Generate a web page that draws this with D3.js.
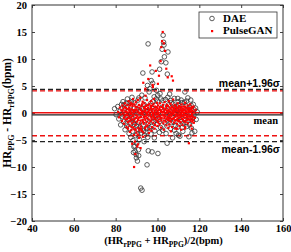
<!DOCTYPE html>
<html>
<head>
<meta charset="utf-8">
<script src="https://cdn.jsdelivr.net/npm/d3@7"></script>
<style>
  body { margin: 0; background: #fff; }
  svg { display: block; }
  .tick text { font-family: "Liberation Serif", serif; font-weight: bold; font-size: 10.5px; fill: #000; }
</style>
</head>
<body>
<div id="chart"></div>
<script>
// Bland-Altman data: [mean HR, difference]
var daePoints = [
  [79.5,0.8],[80.2,-0.3],[81,1.2],[81.5,-1.1],[82,0.3],[82.4,-2.2],[82.8,1.6],[83.1,-0.7],[83.5,2.1],[83.8,-1.6],
  [84.2,0.9],[84.5,-3.1],[84.8,-0.2],[85.1,1.8],[85.3,-2.4],[85.6,2.6],[85.9,-1.2],[86.2,0.4],[86.4,-3.8],[86.7,-2.9],
  [87,1.3],[87.2,-4.5],[87.5,-0.8],[87.8,2.9],[88,-3.4],[88.3,-5.1],[88.5,0.2],[88.7,-6.2],[88.9,-2.1],[89.1,1.9],
  [89.3,-7.1],[89.5,-4.2],[89.7,-1.3],[89.9,-8.3],[90.1,-5.6],[90.3,0.7],[90.5,-3],[90.7,2.4],[90.9,-6.8],[91.1,-1.8],
  [91.3,-4.9],[91.5,1.1],[91.7,-2.6],[92,-13.9],[92.6,-14.3],[92.3,-3.7],[92.5,3.3],[92.8,-0.5],[93,7.4],[93.2,-2.2],
  [93.5,1.6],[93.8,-4.1],[94,2.8],[94.3,-1.4],[94.6,0.3],[94.8,-2.9],[95,-9.6],[95.2,5.1],[95.5,12.8],[95.6,-7],
  [95.8,-1.9],[96,3.9],[96.3,4.5],[96.5,-0.9],[96.8,1.8],[97,6],[97.2,-2.5],[97.4,-7.2],[97.4,7.6],[97.7,5.5],
  [97.9,0.8],[98.2,-1.6],[98.4,3],[98.7,-3.3],[99,1.4],[99.2,-0.4],[99.5,4.2],[99.8,-2.1],[100,2.2],[100.2,-7.5],
  [100.5,0.1],[100.7,-1.2],[101,8.1],[101.2,3.6],[101.5,-2.7],[101.8,9.5],[102,1],[102.2,11.8],[102.5,-0.7],[102.7,14.4],
  [102.9,13.1],[103.1,12.6],[103.3,10.4],[103.5,-1.8],[103.8,2.5],[104,9.3],[104.2,0.5],[104.5,-2.4],[104.7,7.2],[105,11.3],
  [105.2,1.5],[105.5,-1.1],[105.8,3.5],[106,0.2],[106.3,-2.9],[106.6,1.9],[106.9,-0.6],[107.2,-4.6],[107.5,0.9],[107.8,-1.7],
  [108,2.7],[108.3,-0.2],[108.6,-2.3],[108.9,1.2],[109.2,-1],[109.5,0.4],[109.8,-2.6],[110.1,1.5],[110.4,-0.8],[110.7,-4.3],
  [111,0.6],[111.3,-1.6],[111.6,1.9],[111.9,-0.3],[112.2,-2],[112.5,0.8],[112.8,-1.2],[113.1,3.9],[113.4,-0.5],[113.7,1.3],
  [114,-2.5],[114.3,0.2],[114.6,-1.4],[115,-4.4],[115.3,1],[115.6,-0.9],[115.9,2.4],[116.2,-2.8],[116.5,0.5],[116.8,-1.5],
  [117.1,1.6],[117.4,-0.4],[117.8,-3.4],[118.2,0.9],
  [88.5,-7.3],[89.2,-6.1],[89.8,-7.7],[90.4,-8.9],[91,-7.9],[104.6,-5.6],[110,-4.1],[116.5,-3.7],
  [85.5,-0.6],[86.5,1.9],[87.4,-1.9],[88.2,-1],[89,0.9],[90,-2.4],[91.8,0.4],[93.4,-3.3],[94.9,1.2],[96.2,-2.8],
  [98,-0.9],[99.4,2.6],[101,-1.6],[102.6,2.3],[104.8,-1.3],[106.2,2.3],[108.1,-3.2],[109.9,2.1],[111.8,-2.7],[113.9,2.2],
  [83,-0.2],[84,1.5],[84.9,-1.9],[85.8,0.3],[86.6,-1.1],[87.5,2],[88.4,-1.7],[89.4,0.2],[90.2,-3.9],[91.1,2.8],
  [91.9,-3.2],[92.7,0.9],[93.6,-5.3],[94.4,-3.5],[95.3,-4.5],[96.1,0.4],[96.9,-3.9],[97.7,2.1],[98.5,-4.6],[99.3,-1.3],
  [100.1,3.3],[100.9,-3.6],[101.7,2.6],[102.5,-3.2],[103.3,1.1],[104.1,-3.8],[104.9,2.9],[105.7,-0.4],[106.5,-1.8],[107.3,1.7],
  [108.1,0],[108.9,-3.8],[109.7,2.7],[110.5,0.2],[111.3,2.4],[112.1,-3.4],[112.9,2],[113.7,-1.8],[114.5,2.8],[115.3,-2.2],
  [116.1,1.4],[116.9,-0.9],[117.6,0.6],[118.5,-1.2],[119,0.2]
];

var ganPoints = [
  [81.2,0.2],[81.6,-0.8],[82,1],[82.3,-0.3],[82.7,0.5],[83,-1.5],[83.2,1.4],[83.5,-0.1],[83.8,0.8],[84,-2],
  [84.2,-0.6],[84.4,1.8],[84.6,0.3],[84.8,-1.2],[85,0.9],[85.2,-2.6],[85.4,-0.3],[85.6,1.5],[85.8,-1.7],[86,0.1],
  [86.2,2.2],[86.3,-0.9],[86.5,1],[86.7,-2.3],[86.8,0.4],[87,-1.4],[87.1,1.9],[87.3,-0.2],[87.5,-3.2],[87.6,0.7],
  [87.8,-1.9],[88,1.3],[88.1,-0.6],[88.3,2.6],[88.4,-2.7],[88.6,0.2],[88.7,-4.1],[88.8,-10],[88.9,1.6],[89,-1.1],
  [89.2,-5.3],[89.3,0.6],[89.5,-2.2],[89.6,2],[89.8,-0.4],[89.9,-3.6],[90,1.1],[90.2,-1.6],[90.3,-6.2],[90.5,0.3],
  [90.6,2.4],[90.8,-2.8],[90.9,-0.9],[91.1,1.5],[91.2,-4.6],[91.4,-0.1],[91.5,-1.9],[91.7,0.8],[91.8,2.8],[92,-2.5],
  [92.2,-0.7],[92.3,1.3],[92.5,-3.3],[92.6,0.2],[92.8,-1.3],[92.9,2.1],[93.1,-0.3],[93.2,5.6],[93.4,-2],[93.5,0.9],
  [93.7,1.8],[93.8,-1],[94,-2.8],[94.1,0.4],[94.3,3.2],[94.4,-0.6],[94.6,1.3],[94.7,-1.7],[94.9,0.1],[95,2.4],
  [95.2,-2.3],[95.3,-0.4],[95.5,1],[95.6,6.3],[95.8,-1.2],[95.9,0.6],[96.1,-3],[96.2,1.7],[96.4,-0.2],[96.5,8.8],
  [96.7,-1.5],[96.8,0.9],[97,2.2],[97.1,-0.8],[97.3,0.3],[97.4,-2.6],[97.6,1.4],[97.7,5.2],[97.9,-0.5],[98,-1.8],
  [98.2,0.8],[98.3,2.6],[98.5,-1],[98.6,0.1],[98.8,-2.2],[98.9,1.2],[99.1,-0.3],[99.2,7.8],[99.4,0.6],[99.5,-1.4],
  [99.7,1.9],[99.8,-0.7],[100,-2.4],[100.1,0.3],[100.3,1.4],[100.4,-0.2],[100.6,-1.2],[100.7,6.9],[100.9,0.7],[101,-2],
  [101.2,1.8],[101.3,-0.5],[101.5,9.6],[101.6,0.2],[101.8,12.2],[101.9,-1.4],[102.1,1.1],[102.2,13.3],[102.4,-0.3],[102.5,15],
  [102.7,0.9],[102.8,-1.9],[103,12.9],[103.1,0.3],[103.3,-0.9],[103.4,2],[103.6,11.5],[103.7,-0.1],[103.9,-1.6],[104,0.8],
  [104.2,8.2],[104.3,-2.3],[104.5,0.4],[104.6,1.5],[104.8,-0.7],[104.9,6.6],[105.1,-1.3],[105.2,0.6],[105.4,2.2],[105.5,-0.4],
  [105.7,-2.1],[105.8,1],[106,-0.9],[106.1,0.3],[106.3,1.7],[106.4,-1.6],[106.6,0.1],[106.7,-0.5],[106.9,1.2],[107,-2.6],
  [107.2,0.5],[107.3,-1.1],[107.5,2.5],[107.6,-0.2],[107.8,0.9],[107.9,-1.8],[108.1,0.2],[108.2,1.5],[108.4,-0.7],[108.5,-2.9],
  [108.7,0.6],[108.8,-1.3],[109,1.1],[109.1,-0.1],[109.3,-2],[109.4,0.8],[109.6,-0.6],[109.7,1.8],[109.9,-1.5],[110,0.3],
  [110.2,-0.9],[110.3,1.3],[110.5,-2.4],[110.6,0.1],[110.8,-0.5],[110.9,0.9],[111.1,-1.7],[111.2,0.5],[111.4,-0.2],[111.5,1.6],
  [111.7,-1.1],[111.8,0.2],[112,-2.2],[112.1,0.8],[112.3,-0.6],[112.4,1.2],[112.6,-1.5],[112.7,0],[112.9,0.7],[113,-0.9],
  [113.2,1.9],[113.3,-2.6],[113.5,0.4],[113.6,-0.4],[113.8,1],[113.9,-1.3],[114.1,0.1],[114.2,-0.8],[114.4,1.4],[114.5,-1.9],
  [114.7,0.5],[114.8,-0.3],[115,-5.6],[115.1,0.9],[115.3,-1.2],[115.4,0.2],[115.6,1.6],[115.7,-0.6],[115.9,-2.3],[116,0.6],
  [116.2,-1],[116.3,1.1],[116.5,-0.2],[116.6,-1.6],[116.8,0.4],[117,-0.7],[117.2,1.2],[117.4,-1.8],[117.6,0.1],[117.9,-0.9],
  [118.2,0.6],
  [106.8,6.8],[107.4,6],[97.8,4.8],[94.2,4.5],[100.2,5.4],
  [89.4,-7.6],[90.7,-5.8],[91.9,-6.5],[87.9,-5.7],[93,-4.4],
  [83.3,0.4],[83.9,-0.9],[84.3,1.1],[84.7,-0.4],[85.1,0.2],[85.5,-1.1],[85.7,0.7],[86.1,-0.5],[86.4,0.6],[86.6,-1.5],
  [86.9,1.4],[87.2,0.1],[87.4,-0.8],[87.7,1.7],[87.9,-1.2],[88.2,0.5],[88.5,-0.3],[88.8,-1.6],[89.1,0.3],[89.4,1.2],
  [89.7,-0.9],[90.1,0.6],[90.4,-0.6],[90.7,-1.3],[91,0.1],[91.3,1],[91.6,-0.8],[91.9,-1.4],[92.1,0.5],[92.4,-0.2],
  [92.7,1.6],[93,-1.7],[93.3,0.3],[93.6,-0.7],[93.9,1.1],[94.2,-1.3],[94.5,0.7],[94.8,-0.1],[95.1,-0.9],[95.4,1.5],
  [95.7,0.2],[96,-1.9],[96.3,0.5],[96.6,-0.6],[96.9,1.3],[97.2,-1.2],[97.5,0.7],[97.8,-0.2],[98.1,1.7],[98.4,-0.8],
  [98.7,0.4],[99,-1.1],[99.3,1.1],[99.6,-0.1],[99.9,0.9],[100.2,-1.7],[100.5,0.6],[100.8,-0.6],[101.1,1.1],[101.4,-1],
  [101.7,0.5],[102,-0.9],[102.3,0.2],[102.6,1.5],[102.9,-0.5],[103.2,-1.4],[103.5,0.6],[103.8,-0.6],[104.1,1.2],[104.4,-1.1],
  [104.7,0],[105,1.3],[105.3,-0.9],[105.6,0.3],[105.9,-1.4],[106.2,0.8],[106.5,-0.3],[106.8,-1.1],[107.1,1],[107.4,0.1],
  [107.7,-0.9],[108,0.6],[108.3,-1.4],[108.6,1.3],[108.9,-0.4],[109.2,0.4],[109.5,-1.1],[109.8,0.9],[110.1,-0.3],[110.4,-1.5],
  [110.7,0.5],[111,-0.8],[111.3,1.1],[111.6,-0.5],[111.9,0.4],[112.2,-1.2],[112.5,0.5],[112.8,-0.3],[113.1,1.2],[113.4,-1.7],
  [113.7,0.2],[114,-0.6],[114.3,0.8],[114.6,-1.2],[114.9,0.3],[115.2,-0.7],[115.5,0.7],[115.8,-1.4],[116.1,0.2],[116.4,-0.5],
  [116.7,0.9],[117,-1.3],
  [85.9,-2.9],[86.8,-3.5],[87.6,-2.6],[88.9,-3],[89.6,-3.1],[90.6,-4],[91.4,-3.2],[92.1,-2.9],[93.2,-3.6],[94.6,-2.5],
  [95.9,-3.7],[97.1,-3.3],[98.6,-2.9],[101.7,-2.7],[103,-3.1],[105.2,-2.8],[106.4,-3.4],[109.4,-2.9],[111.3,-3.1],[113.1,-2.9],
  [116.4,-2.9]
];

// mean and mean +/- 1.96 sigma for each method
var daeLines = [4.35, -0.35, -5.3];
var ganLines = [4.1, 0.05, -4.2];

var xTicks = [40, 60, 80, 100, 120, 140, 160];
var yTicks = [-20, -15, -10, -5, 0, 5, 10, 15, 20];

var width = 291, height = 252;
var margin = {top: 5, right: 8, bottom: 31, left: 32};

var x = d3.scaleLinear().domain([40, 160]).range([margin.left, width - margin.right]);
var y = d3.scaleLinear().domain([-20, 20]).range([height - margin.bottom, margin.top]);

var svg = d3.select('#chart').append('svg')
    .attr('width', width)
    .attr('height', height);

// Axes, ticks pointing inward
svg.append('g')
    .attr('transform', 'translate(0,' + y(-20) + ')')
    .call(d3.axisBottom(x).tickValues(xTicks).tickSizeInner(-3).tickSizeOuter(0).tickPadding(4))
    .call(g => g.select('.domain').remove());
svg.append('g')
    .attr('transform', 'translate(0,' + y(20) + ')')
    .call(d3.axisTop(x).tickValues(xTicks).tickSizeInner(-3).tickSizeOuter(0).tickFormat(''))
    .call(g => g.select('.domain').remove());
svg.append('g')
    .attr('transform', 'translate(' + x(40) + ',0)')
    .call(d3.axisLeft(y).tickValues(yTicks).tickSizeInner(-3).tickSizeOuter(0).tickPadding(5))
    .call(g => g.select('.domain').remove());
svg.append('g')
    .attr('transform', 'translate(' + x(160) + ',0)')
    .call(d3.axisRight(y).tickValues(yTicks).tickSizeInner(-3).tickSizeOuter(0).tickFormat(''))
    .call(g => g.select('.domain').remove());
svg.selectAll('.tick line').attr('stroke', '#444');

// Reference lines
function refLines(vals, color) {
    svg.selectAll(null).data(vals).enter().append('line')
        .attr('x1', x(40)).attr('x2', x(160))
        .attr('y1', d => y(d)).attr('y2', d => y(d))
        .attr('stroke', color)
        .attr('stroke-width', 1.4)
        .attr('stroke-dasharray', (d, i) => i === 1 ? null : '5,3');
}
refLines(daeLines, '#222');
refLines(ganLines, '#ee1111');

// DAE circles
svg.append('g').selectAll('circle').data(daePoints).enter().append('circle')
    .attr('cx', d => x(d[0]))
    .attr('cy', d => y(d[1]))
    .attr('r', 2.3)
    .attr('fill', 'none')
    .attr('stroke', '#333')
    .attr('stroke-width', 0.8);

// PulseGAN dots
svg.append('g').selectAll('rect').data(ganPoints).enter().append('rect')
    .attr('x', d => x(d[0]) - 1.1)
    .attr('y', d => y(d[1]) - 1.1)
    .attr('width', 2.2)
    .attr('height', 2.2)
    .attr('fill', '#ff0000');

// Frame
svg.append('rect')
    .attr('x', x(40)).attr('y', y(20))
    .attr('width', x(160) - x(40)).attr('height', y(-20) - y(20))
    .attr('fill', 'none').attr('stroke', '#333').attr('stroke-width', 1);

// Line annotations
var ann = svg.append('g').attr('font-weight', 'bold').attr('text-anchor', 'end');
ann.append('text').attr('x', x(160) - 3).attr('y', y(daeLines[0]) - 3)
    .attr('font-family', 'Liberation Sans, Arial, sans-serif').attr('font-size', 10.5)
    .text('mean+1.96σ');
ann.append('text').attr('x', x(160) - 5).attr('y', y(daeLines[1]) + 9)
    .attr('font-family', 'Liberation Serif, serif').attr('font-size', 10.5)
    .text('mean');
ann.append('text').attr('x', x(160) - 3).attr('y', y(daeLines[2]) + 11)
    .attr('font-family', 'Liberation Sans, Arial, sans-serif').attr('font-size', 10.5)
    .text('mean-1.96σ');

// Legend
var lg = svg.append('g');
lg.append('rect').attr('x', 199).attr('y', 12).attr('width', 78).attr('height', 26)
    .attr('fill', '#fff').attr('stroke', '#333').attr('stroke-width', 0.8);
lg.append('circle').attr('cx', 212).attr('cy', 18.5).attr('r', 2.3)
    .attr('fill', 'none').attr('stroke', '#333').attr('stroke-width', 0.8);
lg.append('rect').attr('x', 211).attr('y', 30).attr('width', 2.2).attr('height', 2.2).attr('fill', '#ff0000');
lg.selectAll('text').data(['DAE', 'PulseGAN']).enter().append('text')
    .attr('x', 223).attr('y', (d, i) => 22 + i * 12)
    .attr('font-family', 'Liberation Serif, serif').attr('font-weight', 'bold').attr('font-size', 11)
    .text(d => d);

// Axis titles
var xt = svg.append('text')
    .attr('x', (x(40) + x(160)) / 2 + 6).attr('y', 244)
    .attr('text-anchor', 'middle')
    .attr('font-family', 'Liberation Serif, serif').attr('font-weight', 'bold').attr('font-size', 10.5);
xt.append('tspan').text('(HR');
xt.append('tspan').attr('font-size', 7.5).attr('dy', 3).text('rPPG');
xt.append('tspan').attr('dy', -3).text(' + HR');
xt.append('tspan').attr('font-size', 7.5).attr('dy', 3).text('PPG');
xt.append('tspan').attr('dy', -3).text(')/2(bpm)');

var yt = svg.append('text')
    .attr('transform', 'translate(11,' + y(0) + ') rotate(-90)')
    .attr('text-anchor', 'middle')
    .attr('font-family', 'Liberation Serif, serif').attr('font-weight', 'bold').attr('font-size', 11.5);
yt.append('tspan').text('HR');
yt.append('tspan').attr('font-size', 8).attr('dy', 3).text('PPG');
yt.append('tspan').attr('dy', -3).text(' - HR');
yt.append('tspan').attr('font-size', 8).attr('dy', 3).text('rPPG');
yt.append('tspan').attr('dy', -3).text('(bpm)');
</script>
</body>
</html>
